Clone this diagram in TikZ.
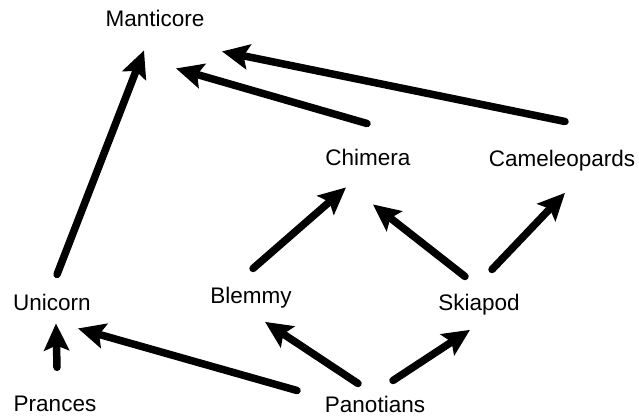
\documentclass[tikz,border=0pt]{standalone}
\usepackage{fontspec}
\setmainfont{Liberation Sans}
\usetikzlibrary{arrows.meta}
\tikzset{
  beast/.style ={inner sep=0pt, anchor=base, font=\fontsize{22.5}{27}\selectfont},
  arr/.style   ={-{Stealth[length=27pt,width=25pt,inset=5pt]}, line width=7.5pt, line cap=round},
}

\begin{document}
\begin{tikzpicture}[x=1pt,y=-1pt]
  \useasboundingbox (0,0) rectangle (639,417);

  \node[beast] (Manticore)    at (155,27)  {Manticore};
  \node[beast] (Chimera)      at (368,165) {Chimera};
  \node[beast] (Cameleopards) at (562,166) {Cameleopards};
  \node[beast] (Unicorn)      at (52,310)  {Unicorn};
  \node[beast] (Blemmy)       at (251,303) {Blemmy};
  \node[beast] (Skiapod)      at (479,310) {Skiapod};
  \node[beast] (Prances)      at (55,411)  {Prances};
  \node[beast] (Panotians)    at (375,412) {Panotians};

  % into Manticore
  \draw[arr] ([xshift=5pt,yshift=19pt]Unicorn.north)      -- ([xshift=-11pt,yshift=-23pt]Manticore.south);
  \draw[arr] ([xshift=-1pt,yshift=25pt]Chimera.north)     -- ([xshift=21pt,yshift=-41pt]Manticore.south);
  \draw[arr] ([xshift=3pt,yshift=28pt]Cameleopards.north) -- ([xshift=67pt,yshift=-24pt]Manticore.south);

  % middle row
  \draw[arr] ([xshift=2pt,yshift=18pt]Blemmy.north)    -- ([xshift=-22pt,yshift=-22pt]Chimera.south);
  \draw[arr] ([xshift=-14pt,yshift=17pt]Skiapod.north) -- ([xshift=5pt,yshift=-39pt]Chimera.south);
  \draw[arr] ([xshift=13pt,yshift=24pt]Skiapod.north)  -- ([xshift=3pt,yshift=-22pt]Cameleopards.south);

  % bottom row
  \draw[arr] ([xshift=2pt,yshift=28pt]Prances.north)     -- ([xshift=4pt,yshift=-13pt]Unicorn.south);
  \draw[arr] ([xshift=-78pt,yshift=5pt]Panotians.north)  -- ([xshift=26pt,yshift=-18pt]Unicorn.south);
  \draw[arr] ([xshift=-17pt,yshift=12pt]Panotians.north) -- ([xshift=14pt,yshift=-14pt]Blemmy.south);
  \draw[arr] ([xshift=18pt,yshift=15pt]Panotians.north)  -- ([xshift=-9pt,yshift=-15pt]Skiapod.south);
\end{tikzpicture}
\end{document}
